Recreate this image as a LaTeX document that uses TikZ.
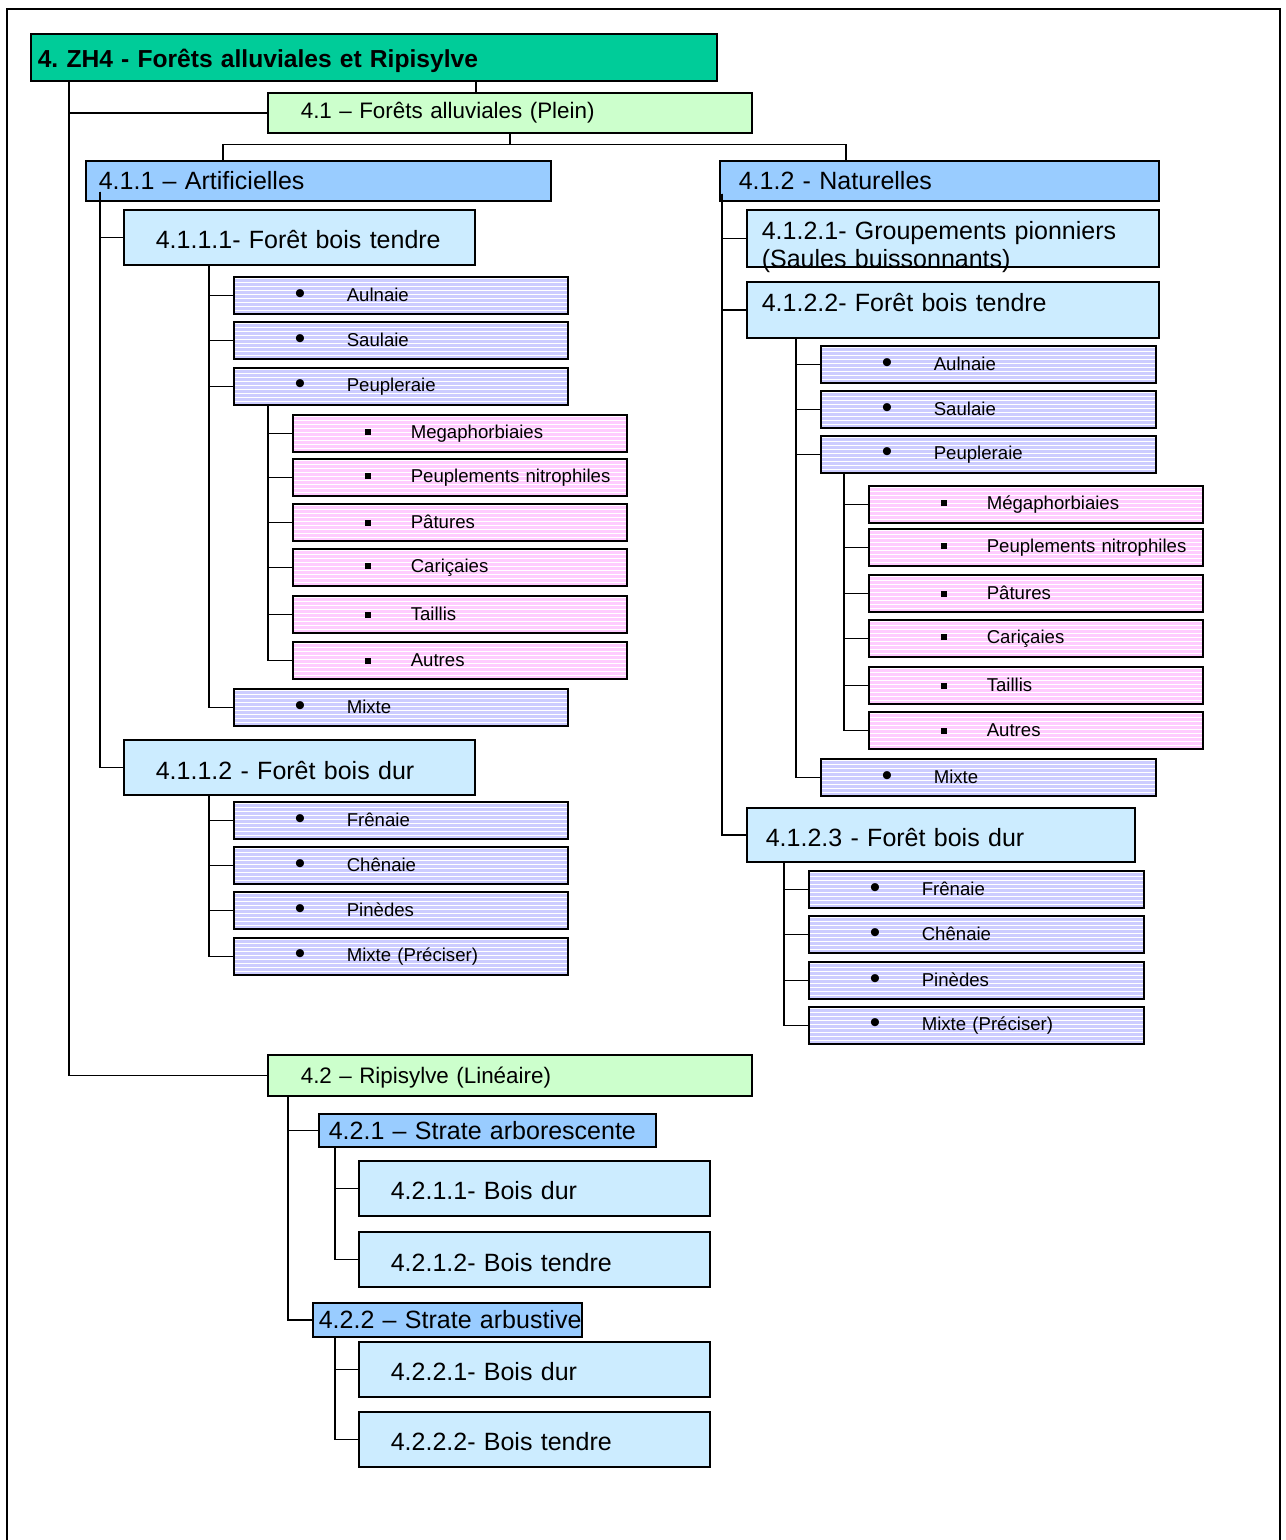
\documentclass[tikz,border=0pt]{standalone}
\usepackage{fontspec}
\usepackage{graphicx}
\setmainfont{Liberation Sans}
\frenchspacing
\usetikzlibrary{positioning,calc,shadows}
\newdimen\pxu \pxu=0.5pt
\definecolor{zhgreen}{RGB}{0,204,153}
\definecolor{palegreen}{RGB}{204,255,204}
\definecolor{midblue}{RGB}{153,204,255}
\definecolor{paleblue}{RGB}{204,236,255}
\definecolor{lavender}{RGB}{204,204,255}
\definecolor{pinkish}{RGB}{255,204,255}
\newcommand{\puce}[1]{\hspace*{61\pxu}\makebox[52\pxu][l]{\raisebox{-2\pxu}{\scalebox{1.6}{\textbullet}}}#1}
\newcommand{\carre}[1]{\hspace*{72\pxu}\makebox[46\pxu][l]{\raisebox{3\pxu}{\rule{6\pxu}{6\pxu}}}#1}
\tikzset{
box/.style = {draw, line width=0.8pt, anchor=north west, inner sep=0pt, align=left,
  drop shadow={shadow xshift=0.7pt, shadow yshift=-0.7pt, fill=black!45, opacity=1}},
boxsize/.style 2 args = {minimum width=#1\pxu, text width=#1\pxu, minimum height=#2\pxu},
stripes/.style = {path picture={\foreach \k in {2,6,...,42}
  \draw[white, line width=0.5pt] ([yshift=-\k*0.5pt]path picture bounding box.north west)
    -- ([yshift=-\k*0.5pt]path picture bounding box.north east);}},
head/.style = {box, fill=zhgreen, font=\fontsize{12.3}{15}\selectfont\bfseries},
lvltwo/.style = {box, fill=palegreen, font=\fontsize{11.2}{13.5}\selectfont},
lvlthree/.style = {box, fill=midblue, font=\fontsize{12.5}{14}\selectfont},
lvlfour/.style = {box, fill=paleblue, font=\fontsize{12.5}{14}\selectfont, boxsize={351}{55},
  text height=39\pxu, text depth=16\pxu},
lav/.style = {box, fill=lavender, stripes, font=\fontsize{9.3}{11}\selectfont, boxsize={334}{37}},
pink/.style = {box, fill=pinkish, stripes, font=\fontsize{9.3}{11}\selectfont, boxsize={334}{37}},
link/.style = {draw, line width=0.75pt}
}

\begin{document}
\begin{tikzpicture}[x=0.5pt, y=-0.5pt]
  \useasboundingbox (0,0) rectangle (1285,1540);
  \draw[line width=1pt] (7,1540) -- (7,9) -- (1280,9) -- (1280,1540);

  % main headings
  \node [head, boxsize={686}{47}, text height=34\pxu, text depth=13\pxu]
                                        (zh4)   at (30,33)   {\hspace*{7\pxu}4. ZH4 - Forêts alluviales et Ripisylve};
  \node [lvltwo, boxsize={484}{40}]     (n41)   at (267,92)  {\hspace*{33\pxu}4.1 – Forêts alluviales (Plein)};
  \node [lvlthree, boxsize={465}{40}]   (n411)  at (85,160)  {\hspace*{13\pxu}4.1.1 – Artificielles};
  \node [lvlthree, boxsize={439}{40}]   (n412)  at (719,160) {\hspace*{19\pxu}4.1.2 - Naturelles};

  % 4.1.1 artificielles
  \node [lvlfour]                       (n4111) at (123,209) {\hspace*{32\pxu}4.1.1.1- Forêt bois tendre};
  \foreach \nm/\yy/\tx in {la1/276/Aulnaie, la2/321/Saulaie, la3/367/Peupleraie, la4/688/Mixte}
    \node [lav] (\nm) at (233,\yy) {\puce{\tx}};
  \foreach \nm/\yy/\tx in {lp1/414/Megaphorbiaies, lp2/458/Peuplements nitrophiles, lp3/503/Pâtures,
                           lp4/548/Cariçaies, lp5/595/Taillis, lp6/641/Autres}
    \node [pink] (\nm) at (292,\yy) {\carre{\tx}};
  \node [lvlfour, text depth=15\pxu]    (n4112) at (123,739) {\hspace*{32\pxu}4.1.1.2 - Forêt bois dur};
  \foreach \nm/\yy/\tx in {lb1/801/Frênaie, lb2/846/Chênaie, lb3/891/Pinèdes, lb4/937/Mixte (Préciser)}
    \node [lav] (\nm) at (233,\yy) {\puce{\tx}};

  % 4.1.2 naturelles
  \node [lvlfour, boxsize={412}{57}, text height=30\pxu, text depth=27\pxu]
                                        (n4121) at (746,209) {\hspace*{15\pxu}4.1.2.1- Groupements pionniers\\\hspace*{15\pxu}(Saules buissonnants)};
  \node [lvlfour, boxsize={412}{56}, text height=30\pxu, text depth=26\pxu]
                                        (n4122) at (746,281) {\hspace*{15\pxu}4.1.2.2- Forêt bois tendre};
  \foreach \nm/\yy/\tx in {ra1/345/Aulnaie, ra2/390/Saulaie, ra3/435/Peupleraie, ra4/758/Mixte}
    \node [lav, boxsize={335}{37}] (\nm) at (820,\yy) {\puce{\tx}};
  \foreach \nm/\yy/\tx in {rp1/485/Mégaphorbiaies, rp2/528/Peuplements nitrophiles, rp3/574/Pâtures,
                           rp4/619/Cariçaies, rp5/666/Taillis, rp6/711/Autres}
    \node [pink] (\nm) at (868,\yy) {\carre{\tx}};
  \node [lvlfour, boxsize={388}{54}, text depth=15\pxu]
                                        (n4123) at (746,807) {\hspace*{19\pxu}4.1.2.3 - Forêt bois dur};
  \foreach \nm/\yy/\tx in {rb1/870/Frênaie, rb2/915/Chênaie, rb3/961/Pinèdes, rb4/1006/Mixte (Préciser)}
    \node [lav, boxsize={335}{37}] (\nm) at (808,\yy) {\puce{\tx}};

  % 4.2 ripisylve
  \node [lvltwo, boxsize={484}{41}, text height=29\pxu, text depth=12\pxu]
                                        (n42)   at (267,1054) {\hspace*{33\pxu}4.2 – Ripisylve (Linéaire)};
  \node [lvlthree, boxsize={337}{33}]   (n421)  at (318,1113) {\hspace*{10\pxu}\mbox{4.2.1 – Strate arborescente}};
  \node [lvlfour]                       (n4211) at (358,1160) {\hspace*{32\pxu}4.2.1.1- Bois dur};
  \node [lvlfour, text depth=15\pxu]    (n4212) at (358,1231) {\hspace*{32\pxu}4.2.1.2- Bois tendre};
  \node [lvlthree, boxsize={269}{34}]   (n422)  at (312,1302) {\hspace*{6\pxu}\mbox{4.2.2 – Strate arbustive}};
  \node [lvlfour]                       (n4221) at (358,1341) {\hspace*{32\pxu}4.2.2.1- Bois dur};
  \node [lvlfour]                       (n4222) at (358,1411) {\hspace*{32\pxu}4.2.2.2- Bois tendre};

  % connectors
  \draw [link] ($(n41.north west)+(209,0)$) coordinate (t41) -- (t41 |- zh4.south);
  \draw [link] ($(zh4.south west)+(39,0)$) |- (n41.west);
  \draw [link] ($(zh4.south west)+(39,0)$) |- (n42.west);
  \draw [link] (n41.south) -- ++(0,11) coordinate (fork);
  \draw [link] ($(n411.north west)+(138,0)$) |- (fork) -| ($(n412.north west)+(127,0)$);

  \draw [link] ($(n411.south west)+(15,-10)$) |- (n4111.west);
  \draw [link] ($(n411.south west)+(15,-10)$) |- (n4112.west);
  \foreach \nm in {la1,la2,la3,la4}
    \draw [link] ($(n4111.south west)+(86,0)$) |- (\nm.west);
  \foreach \nm in {lp1,lp2,lp3,lp4,lp5,lp6}
    \draw [link] ($(la3.south west)+(35,0)$) |- (\nm.west);
  \foreach \nm in {lb1,lb2,lb3,lb4}
    \draw [link] ($(n4112.south west)+(86,0)$) |- (\nm.west);

  \foreach \nm in {n4121,n4122,n4123}
    \draw [link] ($(n412.south west)+(3,-8)$) |- (\nm.west);
  \foreach \nm in {ra1,ra2,ra3,ra4}
    \draw [link] ($(n4122.south west)+(50,0)$) |- (\nm.west);
  \foreach \nm in {rp1,rp2,rp3,rp4,rp5,rp6}
    \draw [link] ($(ra3.south west)+(24,0)$) |- (\nm.west);
  \foreach \nm in {rb1,rb2,rb3,rb4}
    \draw [link] ($(n4123.south west)+(38,0)$) |- (\nm.west);

  \draw [link] ($(n42.south west)+(21,0)$) |- (n421.west);
  \draw [link] ($(n42.south west)+(21,0)$) |- (n422.west);
  \draw [link] ($(n421.south west)+(17,0)$) |- (n4211.west);
  \draw [link] ($(n421.south west)+(17,0)$) |- (n4212.west);
  \draw [link] ($(n422.south west)+(23,0)$) |- (n4221.west);
  \draw [link] ($(n422.south west)+(23,0)$) |- (n4222.west);
\end{tikzpicture}
\end{document}
